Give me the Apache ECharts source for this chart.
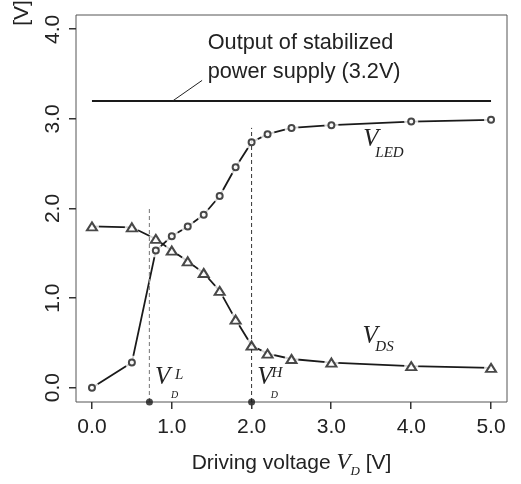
<!DOCTYPE html>
<html>
<head>
<meta charset="utf-8">
<script src="https://cdn.jsdelivr.net/npm/echarts@6/dist/echarts.min.js"></script>
<style>
  html, body { margin: 0; padding: 0; background: #fff; }
  #chart { width: 521px; height: 484px; }
</style>
</head>
<body>
<div id="chart"></div>
<script>
// driving voltage V_D [V]
const drivingV = [0, 0.5, 0.8, 1.0, 1.2, 1.4, 1.6, 1.8, 2.0, 2.2, 2.5, 3.0, 4.0, 5.0]
const vLed = [0, 0.28, 1.53, 1.69, 1.80, 1.93, 2.14, 2.46, 2.74, 2.83, 2.90, 2.93, 2.97, 2.99]
const vDs = [1.80, 1.79, 1.66, 1.53, 1.41, 1.28, 1.08, 0.76, 0.47, 0.38, 0.32, 0.28, 0.24, 0.22]

// stabilized supply output
const supplyX = [0, 5]
const supplyV = 3.2

// threshold markers V_D^L and V_D^H
const thresholds = [0.72, 2.0]
const thresholdTops = [2.0, 2.9]

const xTicks = [0, 1, 2, 3, 4, 5]
const yTicks = [0, 1, 2, 3, 4]

const SANS = '"Liberation Sans", Arial, sans-serif'
const SERIF = '"Liberation Serif", "Times New Roman", serif'
const INK = '#1a1a1a'
const FRAME = '#555'
const xMin = -0.2, xMax = 5.2
const yMin = -0.16, yMax = 4.16

const ledPts = drivingV.map((x, i) => [x, vLed[i]])
const dsPts = drivingV.map((x, i) => [x, vDs[i]])

const chart = echarts.init(document.getElementById('chart'), null, { renderer: 'canvas' })

function lineSeries(data, z, style) {
  return {
    type: 'line', data, z, symbol: 'none', silent: true, animation: false,
    lineStyle: Object.assign({ color: INK, width: 1.8 }, style)
  }
}
function dotSeries(data, z, symbol, size, itemStyle) {
  return {
    type: 'scatter', data, z, symbol, symbolSize: size,
    silent: true, animation: false, clip: false, itemStyle
  }
}
const halo = { color: '#fff', borderWidth: 0 }
const hollow = { color: '#fff', borderColor: INK, borderWidth: 2 }

const option = {
  animation: false,
  backgroundColor: '#fff',
  grid: { left: 76, top: 15, right: 14, bottom: 82, show: true, borderColor: FRAME, borderWidth: 1 },
  xAxis: {
    type: 'value', min: xMin, max: xMax,
    axisLine: { show: false, onZero: false },
    splitLine: { show: false },
    axisTick: { show: false },
    axisLabel: {
      customValues: xTicks, formatter: v => v.toFixed(1),
      color: '#222', fontSize: 21, fontFamily: SANS, margin: 15
    },
    name: 'Driving voltage {v|V}{d|D} [V]',
    nameLocation: 'middle', nameGap: 46,
    nameTextStyle: {
      color: '#222', fontSize: 21, fontFamily: SANS, lineHeight: 30,
      rich: {
        v: { fontFamily: SERIF, fontStyle: 'italic', fontSize: 23, color: '#222', lineHeight: 30 },
        d: { fontFamily: SERIF, fontStyle: 'italic', fontSize: 13, color: '#222', lineHeight: 14, verticalAlign: 'bottom' }
      }
    }
  },
  yAxis: {
    type: 'value', min: yMin, max: yMax,
    axisLine: { show: false, onZero: false },
    splitLine: { show: false },
    axisTick: { show: false },
    axisLabel: {
      customValues: yTicks, formatter: v => v.toFixed(1), rotate: 90,
      align: 'center', verticalAlign: 'bottom',
      color: '#222', fontSize: 21, fontFamily: SANS, margin: 12
    }
  },
  series: [
    // supply line + leader
    lineSeries(supplyX.map(x => [x, supplyV]), 2, { width: 2 }),
    lineSeries([[1.01, supplyV], [1.38, 3.43]], 2, { width: 1, color: '#222' }),
    // V_LED, gaps round the points
    lineSeries(ledPts, 2),
    dotSeries(ledPts, 3, 'circle', 14, halo),
    // V_DS
    lineSeries(dsPts, 4),
    dotSeries(dsPts, 5, 'circle', 14, halo),
    // dashed guides
    lineSeries([[thresholds[0], yMin], [thresholds[0], thresholdTops[0]]], 6, { width: 1.2, color: '#888', type: [4, 3] }),
    lineSeries([[thresholds[1], yMin], [thresholds[1], thresholdTops[1]]], 6, { width: 1, color: '#333', type: [4, 3] }),
    dotSeries(thresholds.map(x => [x, yMin]), 9, 'circle', 7, { color: INK }),
    // markers
    dotSeries(ledPts, 8, 'circle', 6, hollow),
    dotSeries(dsPts, 8, 'triangle', [10, 8], hollow)
  ]
}
chart.setOption(option)

// text annotations in data coords
const notes = [
  { t: 'Output of stabilized', x: 1.45, y: 3.85, size: 21.7, font: SANS, it: false },
  { t: 'power supply (3.2V)', x: 1.45, y: 3.52, size: 21.7, font: SANS, it: false },
  { t: 'V', x: 3.40, y: 2.77, size: 25, font: SERIF, it: true },
  { t: 'LED', x: 3.55, y: 2.62, size: 15, font: SERIF, it: true },
  { t: 'V', x: 3.39, y: 0.57, size: 25, font: SERIF, it: true },
  { t: 'DS', x: 3.55, y: 0.45, size: 15, font: SERIF, it: true },
  { t: 'V', x: 0.79, y: 0.11, size: 25, font: SERIF, it: true },
  { t: 'L', x: 1.04, y: 0.14, size: 15, font: SERIF, it: true },
  { t: 'D', x: 0.99, y: -0.087, size: 10, font: SERIF, it: true },
  { t: 'V', x: 2.07, y: 0.11, size: 25, font: SERIF, it: true },
  { t: 'H', x: 2.25, y: 0.16, size: 15, font: SERIF, it: true },
  { t: 'D', x: 2.24, y: -0.087, size: 10, font: SERIF, it: true }
]

const toPx = (x, y) => chart.convertToPixel({ gridIndex: 0 }, [x, y])

const graphic = notes.map(n => {
  const p = toPx(n.x, n.y)
  return {
    type: 'text', x: p[0], y: p[1], silent: true, z: 20,
    style: {
      text: n.t, fill: '#222', fontSize: n.size, fontFamily: n.font,
      fontStyle: n.it ? 'italic' : 'normal', align: 'left', verticalAlign: 'middle'
    }
  }
})
// outward tick marks on the frame
xTicks.forEach(v => {
  const p = toPx(v, yMin)
  graphic.push({ type: 'rect', silent: true, z: 30,
    shape: { x: Math.round(p[0]) - 1, y: Math.round(p[1]), width: 1.5, height: 7 }, style: { fill: '#333' } })
})
yTicks.forEach(v => {
  const p = toPx(xMin, v)
  graphic.push({ type: 'rect', silent: true, z: 30,
    shape: { x: Math.round(p[0]) - 7, y: Math.round(p[1]) - 1, width: 7, height: 1.5 }, style: { fill: '#333' } })
})
graphic.push({
  type: 'text', x: 22, y: 13, rotation: Math.PI / 2, silent: true,
  style: { text: '[V]', fill: '#222', fontSize: 21, fontFamily: SANS, align: 'center', verticalAlign: 'middle' }
})
chart.setOption({ graphic })
window.addEventListener('resize', () => chart.resize())
</script>
</body>
</html>
